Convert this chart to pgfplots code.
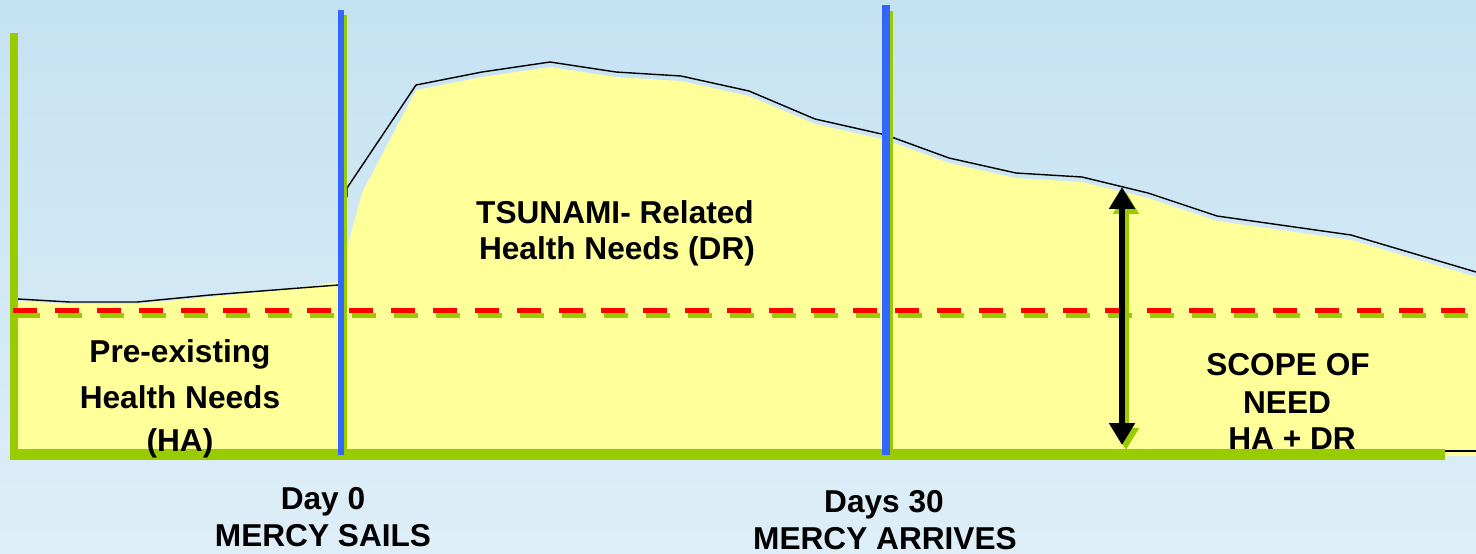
\documentclass[border=0pt]{standalone}
\usepackage{pgfplots}
\pgfplotsset{compat=1.18}
\usepackage{pgfplotstable}
\usepackage{fontspec}
\setmainfont{Liberation Sans}
\usetikzlibrary{arrows.meta}
\definecolor{bgtop}{RGB}{197,226,242}
\definecolor{bgbot}{RGB}{222,238,248}
\definecolor{needyellow}{RGB}{255,255,153}
\definecolor{axgreen}{RGB}{153,204,0}
\definecolor{lineblue}{RGB}{51,102,255}

% need level before the tsunami (pre-existing, HA)
\pgfplotstableread{
x y
18 299
70 302
137 302
210 295
338 285
}\preline
% need level after the tsunami (HA + DR)
\pgfplotstableread{
x y
347 197
347 188
416 85
482 72
550 62
616 72
681 76
749 91
815 119
886 135
949 158
1016 173
1082 177
1148 193
1217 216
1351 235
1476 272
}\postline
% filled areas
\pgfplotstableread{
x y
16 456
16 301
70 304
137 304
210 297
300 288
342 281
342 456
}\prearea
\pgfplotstableread{
x y
340 456
340 287
347 248
362 193
416 90
482 77
550 67
616 77
681 81
749 96
815 124
886 140
949 163
1016 178
1082 182
1148 198
1217 221
1351 240
1476 277
1476 456
}\postarea

\begin{document}
\begin{tikzpicture}[lab/.style={anchor=base, inner sep=0pt, font=\fontsize{9}{10}\selectfont\bfseries}]
\begin{axis}[
  scale only axis, width=147.6mm, height=55.3mm,
  xmin=0, xmax=1476, ymin=0, ymax=553, y dir=reverse,
  axis lines=none, ticks=none,
  axis background/.style={top color=bgtop, bottom color=bgbot},
  clip=false,
]
% areas
\addplot[draw=none, fill=needyellow] table {\prearea};
\addplot[draw=none, fill=needyellow] table {\postarea};
% outline
\addplot[black, line width=0.4pt] table {\preline};
\addplot[black, line width=0.4pt] table {\postline};
\addplot[black, line width=0.4pt] coordinates {(1443,451) (1476,451)};
% green axes
\addplot[axgreen, line width=2.28pt] coordinates {(14,33) (14,460)};
\addplot[axgreen, line width=3.13pt] coordinates {(10,454) (1445,454)};
% baseline (dashed)
\addplot[axgreen, line width=1.42pt, dash pattern=on 6.83pt off 5.12pt] coordinates {(16,315) (1476,315)};
\addplot[red, line width=1.42pt, dash pattern=on 6.83pt off 5.12pt] coordinates {(13,310) (1476,310)};
% event lines
\addplot[axgreen, line width=1.0pt] coordinates {(345.5,15) (345.5,458)};
\addplot[lineblue, line width=1.7pt] coordinates {(341,10) (341,455)};
\addplot[axgreen, line width=1.0pt] coordinates {(891.5,11) (891.5,455)};
\addplot[lineblue, line width=2.28pt] coordinates {(886,5) (886,455)};
% scope arrow
\addplot[axgreen, line width=1.7pt, {Triangle[length=6.2pt,width=7pt]}-{Triangle[length=6.2pt,width=7pt]}] coordinates {(1126,450) (1126,192)};
\addplot[black, line width=1.7pt, {Triangle[length=6.2pt,width=7pt]}-{Triangle[length=6.2pt,width=7pt]}] coordinates {(1122,445) (1122,187)};
% labels
\node[lab] at (axis cs:180,362) {Pre-existing};
\node[lab] at (axis cs:180,408) {Health Needs};
\node[lab] at (axis cs:180,451) {(HA)};
\node[lab] at (axis cs:615,223) {TSUNAMI- Related};
\node[lab] at (axis cs:617,259) {Health Needs (DR)};
\node[lab] at (axis cs:1288,375) {SCOPE OF};
\node[lab] at (axis cs:1287,413) {NEED};
\node[lab] at (axis cs:1292,449) {HA + DR};
\node[lab] at (axis cs:323,509) {Day 0};
\node[lab] at (axis cs:323,546) {MERCY SAILS};
\node[lab] at (axis cs:884,512) {Days 30};
\node[lab] at (axis cs:885,549) {MERCY ARRIVES};
\end{axis}
\pgfresetboundingbox
\path (current axis.south west) rectangle (current axis.north east);
\end{tikzpicture}
\end{document}
